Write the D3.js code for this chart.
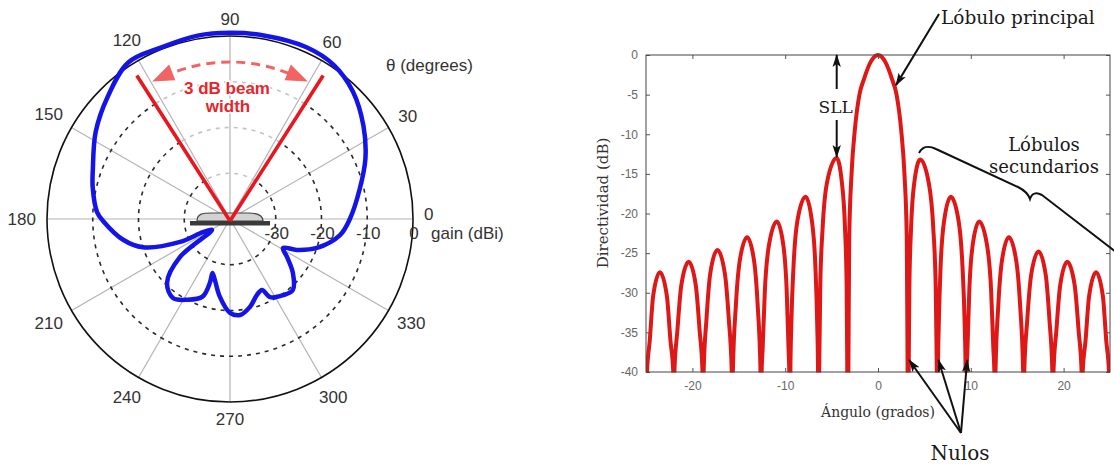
<!DOCTYPE html>
<html>
<head>
<meta charset="utf-8">
<script src="https://cdn.jsdelivr.net/npm/d3@7"></script>
<style>
  html, body { margin: 0; padding: 0; background: #fff; }
  svg { display: block; }
</style>
</head>
<body>
<svg id="chart" width="1114" height="464"></svg>
<script>
// ---------- Polar gain pattern (left) ----------
const polarAngles = [0, 30, 60, 90, 120, 150, 180, 210, 240, 270, 300, 330];
const gainRings = [-30, -20, -10];
const gainTicks = [-30, -20, -10, 0];
const beamEdges = [57, 123];          // 3 dB beam width edges (degrees)

// measured gain (dBi) versus angle, traced counter-clockwise from 0°
const patternTheta = [0, 13, 24, 35, 46, 56, 66, 80, 90, 100, 112, 123, 135, 147, 160, 167, 177,
  181, 191, 198, 204.7, 206, 211.4, 217.2, 225.4, 234.2, 242, 250.5, 252.5, 252, 256, 262.5, 270,
  276, 282.8, 289.6, 294.3, 297.2, 304.9, 311.6, 319.4, 326.3, 331.3, 335.2, 341.6, 351.7];
const patternGain = [-13.8, -10.9, -7.6, -4.4, -1.3, 0.6, 1.1, 0.8, 0.7, 0.7, 0.4, 0.8, -2.2, -5.0, -8.1, -9.2, -10.9,
  -12.3, -16.2, -20.0, -28.0, -33.4, -35.4, -26.3, -20.4, -18.7, -20.0, -22.0, -25.5, -27.6, -26.3, -22.9, -19.5,
  -18.9, -20.3, -22.4, -23.0, -20.8, -19.7, -19.3, -21.9, -25.0, -26.8, -23.9, -20.0, -15.7];

// ---------- Array factor (right) ----------
const angleTicks = [-20, -10, 0, 10, 20];
const dirTicks = [0, -5, -10, -15, -20, -25, -30, -35, -40];

// [angle (deg), directivity (dB)]
const lobesLeft = [
  [-24.95, -50], [-24.89, -40], [-24.6, -36.1], [-24.23, -30.4], [-23.5, -27.4], [-22.75, -30.4], [-22.36, -36.1], [-22.06, -40], [-22.0, -50],
  [-21.94, -40], [-21.62, -34.8], [-21.2, -29.1], [-20.4, -26.1], [-19.63, -29.1], [-19.22, -34.8], [-18.91, -40], [-18.85, -50],
  [-18.79, -40], [-18.48, -33.3], [-18.08, -27.6], [-17.3, -24.6], [-16.5, -27.6], [-16.08, -33.3], [-15.76, -40], [-15.7, -50],
  [-15.64, -40], [-15.32, -31.7], [-14.9, -26.0], [-14.1, -23.0], [-13.35, -26.0], [-12.96, -31.7], [-12.66, -40], [-12.6, -50],
  [-12.54, -40], [-12.43, -37.1], [-12.19, -29.7], [-11.75, -24.0], [-10.9, -21.0], [-10.2, -24.0], [-9.84, -29.7], [-9.64, -37.1], [-9.56, -40], [-9.5, -50],
  [-9.44, -40], [-9.34, -34.0], [-9.1, -26.6], [-8.68, -20.9], [-7.8, -17.9], [-7.13, -20.9], [-6.75, -26.6], [-6.55, -34.0], [-6.46, -40], [-6.4, -50],
  [-6.34, -40], [-6.22, -29.1], [-5.96, -21.7], [-5.48, -16.0], [-4.45, -13.0], [-3.9, -16.0], [-3.56, -21.7], [-3.38, -29.1], [-3.31, -40], [-3.25, -50]
];
const mainLobe = [
  [-3.19, -40], [-3.1, -23], [-2.85, -15], [-2.5, -9.5], [-2.0, -5.0], [-1.5, -3.0], [-0.8, -0.9], [0, 0],
  [0.8, -0.9], [1.5, -3.0], [2.0, -5.0], [2.5, -9.5], [2.85, -15], [3.1, -23], [3.19, -40], [3.25, -50]
];
const lobesRight = [
  [3.31, -40], [3.38, -29.3], [3.56, -21.9], [3.9, -16.2], [4.55, -13.2], [5.48, -16.2], [5.96, -21.9], [6.22, -29.3], [6.34, -40], [6.4, -50],
  [6.46, -40], [6.55, -34.0], [6.75, -26.6], [7.13, -20.9], [7.85, -17.9], [8.68, -20.9], [9.1, -26.6], [9.34, -34.0], [9.44, -40], [9.5, -50],
  [9.56, -40], [9.64, -37.1], [9.84, -29.7], [10.2, -24.0], [10.9, -21.0], [11.75, -24.0], [12.19, -29.7], [12.43, -37.1], [12.54, -40], [12.6, -50],
  [12.66, -40], [12.96, -31.7], [13.35, -26.0], [14.1, -23.0], [14.9, -26.0], [15.32, -31.7], [15.64, -40], [15.7, -50],
  [15.76, -40], [16.08, -33.5], [16.5, -27.8], [17.3, -24.8], [18.08, -27.8], [18.48, -33.5], [18.79, -40], [18.85, -50],
  [18.91, -40], [19.22, -34.8], [19.63, -29.1], [20.4, -26.1], [21.2, -29.1], [21.62, -34.8], [21.94, -40], [22.0, -50],
  [22.06, -40], [22.36, -36.1], [22.75, -30.4], [23.5, -27.4], [24.23, -30.4], [24.6, -36.1], [24.89, -40], [24.95, -50]
];
const sllPeak = [-4.45, -13.0];       // first side lobe used for the SLL marker
const nullMarkers = [3.25, 6.4, 9.5];  // nulls pointed at by "Nulos"

// ====================================================================
const svg = d3.select("#chart");
svg.append("rect").attr("width", 1114).attr("height", 464).attr("fill", "#fff");
const defs = svg.append("defs");
defs.append("marker").attr("id", "ah").attr("markerUnits", "userSpaceOnUse")
  .attr("markerWidth", 14).attr("markerHeight", 10).attr("refX", 12).attr("refY", 5)
  .attr("orient", "auto")
  .append("path").attr("d", "M0,0.8 L13,5 L0,9.2 L3,5 Z").attr("fill", "#111");

const sans = "'Liberation Sans', Arial, Helvetica, sans-serif";
const serif = "'DejaVu Serif', 'Liberation Serif', serif";

// ---------- polar plot ----------
const cx = 230, cy = 219, R = 183;
const rScale = d3.scaleLinear().domain([-40, 0]).range([0, R]);
const toRad = d => d * Math.PI / 180;
const polarXY = (rr, th) => [cx + rr * Math.cos(toRad(th)), cy - rr * Math.sin(toRad(th))];
const polar = svg.append("g");

polar.selectAll(".spoke").data(polarAngles).join("line").attr("class", "spoke")
  .attr("x1", cx).attr("y1", cy)
  .attr("x2", d => polarXY(R, d)[0]).attr("y2", d => polarXY(R, d)[1])
  .attr("stroke", "#b4b4b4").attr("stroke-width", 1.2);

gainRings.forEach(g => {
  const rr = rScale(g);
  const outside = d3.path();
  outside.arc(cx, cy, rr, toRad(-beamEdges[1]), toRad(-beamEdges[0] - 360), true);
  polar.append("path").attr("d", outside.toString()).attr("fill", "none")
    .attr("stroke", "#2a2a2a").attr("stroke-width", 1.6).attr("stroke-dasharray", "4,5");
  const inside = d3.path();
  inside.arc(cx, cy, rr, toRad(-beamEdges[0]), toRad(-beamEdges[1]), true);
  polar.append("path").attr("d", inside.toString()).attr("fill", "none")
    .attr("stroke", "#c4c4c4").attr("stroke-width", 1.6).attr("stroke-dasharray", "4,5");
});

polar.append("circle").attr("cx", cx).attr("cy", cy).attr("r", R)
  .attr("fill", "none").attr("stroke", "#111").attr("stroke-width", 1.6);

// angle labels
polar.selectAll(".ang").data(polarAngles).join("text").attr("class", "ang")
  .each(function (d) {
    const s = String(d), w = s.length * 9.5, h = 12;
    const rr = R + 11 + Math.abs(Math.cos(toRad(d))) * w / 2 + Math.abs(Math.sin(toRad(d))) * h / 2;
    const [px, py] = polarXY(rr, d);
    d3.select(this).attr("x", px).attr("y", d === 0 ? py - 5 : py).text(s);
  })
  .attr("text-anchor", "middle").attr("dominant-baseline", "central")
  .attr("font-family", sans).attr("font-size", 17).attr("fill", "#333");

// gain labels along 0°
polar.selectAll(".gl").data(gainTicks).join("text").attr("class", "gl")
  .attr("x", d => cx + rScale(d) + 1).attr("y", cy + 14)
  .attr("text-anchor", "middle").attr("dominant-baseline", "central")
  .attr("font-family", sans).attr("font-size", 17).attr("fill", "#333")
  .text(d => String(d));

polar.append("text").attr("x", 386).attr("y", 65).attr("dominant-baseline", "central")
  .attr("font-family", sans).attr("font-size", 17).attr("fill", "#333").text("θ (degrees)");
polar.append("text").attr("x", 431).attr("y", cy + 14).attr("dominant-baseline", "central")
  .attr("font-family", sans).attr("font-size", 17).attr("fill", "#333").text("gain (dBi)");

// gain pattern
const gainLine = d3.lineRadial()
  .angle(i => toRad(90 - patternTheta[i]))
  .radius(i => rScale(patternGain[i]))
  .curve(d3.curveCatmullRomClosed.alpha(0.5));
polar.append("path").attr("transform", `translate(${cx},${cy})`)
  .attr("d", gainLine(d3.range(patternTheta.length)))
  .attr("fill", "none").attr("stroke", "#1414e8").attr("stroke-width", 4.5)
  .attr("stroke-linejoin", "round");

// antenna icon at the origin
polar.append("path")
  .attr("d", `M${cx - 33},${cy + 2} C${cx - 33},${cy - 5} ${cx - 28},${cy - 6} ${cx - 18},${cy - 6} L${cx + 18},${cy - 6} C${cx + 28},${cy - 6} ${cx + 33},${cy - 4} ${cx + 33},${cy + 2} Z`)
  .attr("fill", "#d2d2d2").attr("stroke", "#444").attr("stroke-width", 1.2);
polar.append("rect").attr("x", cx - 40).attr("y", cy + 2).attr("width", 80).attr("height", 4.5)
  .attr("fill", "#3a3a3a");

// 3 dB beam width markers
const beamLen = R * 0.935;
polar.selectAll(".beam").data(beamEdges).join("line").attr("class", "beam")
  .attr("x1", cx).attr("y1", cy + 2)
  .attr("x2", d => polarXY(beamLen, d)[0]).attr("y2", d => polarXY(beamLen, d)[1])
  .attr("stroke", "#e8171f").attr("stroke-width", 3.6);

const arcR = 157;
const bw = d3.path();
bw.arc(cx, cy, arcR, toRad(-(beamEdges[0] + 11)), toRad(-(beamEdges[1] - 11)), true);
polar.append("path").attr("d", bw.toString()).attr("fill", "none")
  .attr("stroke", "#f26464").attr("stroke-width", 3).attr("stroke-dasharray", "9,6");
[[beamEdges[0] + 3.5, beamEdges[0] + 11.5], [beamEdges[1] - 3.5, beamEdges[1] - 11.5]].forEach(([tip, base]) => {
  const pts = [polarXY(arcR + 1, tip), polarXY(arcR + 9, base), polarXY(arcR - 8, base)];
  polar.append("polygon").attr("points", pts.map(p => p.join(",")).join(" "))
    .attr("fill", "#f26464");
});
const beamText = polar.append("g").attr("font-family", sans).attr("font-size", 17)
  .attr("font-weight", "bold").attr("fill", "#e8242b").attr("text-anchor", "middle")
  .attr("stroke", "#fff").attr("stroke-width", 3).attr("paint-order", "stroke");
beamText.append("text").attr("x", 227).attr("y", 94).text("3 dB beam");
beamText.append("text").attr("x", 228).attr("y", 112).text("width");

// ---------- array factor plot ----------
const x = d3.scaleLinear().domain([-25, 25]).range([646, 1110]);
const y = d3.scaleLinear().domain([-40, 0]).range([372, 55]);
const plot = svg.append("g");

defs.append("clipPath").attr("id", "clipPlot").append("rect")
  .attr("x", 646).attr("y", 40).attr("width", 464).attr("height", 332.5);

const axStyle = g => {
  g.select(".domain").remove();
  g.selectAll("line").attr("stroke", "#555");
  g.selectAll("text").attr("font-family", sans).attr("font-size", 12).attr("fill", "#666");
};
const fmt = d => String(d);
plot.append("g").attr("transform", "translate(0,372)")
  .call(d3.axisBottom(x).tickValues(angleTicks).tickSize(-4).tickPadding(9).tickFormat(fmt)).call(axStyle);
plot.append("g").attr("transform", "translate(0,55)")
  .call(d3.axisTop(x).tickValues(angleTicks).tickSize(-4).tickFormat("")).call(axStyle);
plot.append("g").attr("transform", "translate(646,0)")
  .call(d3.axisLeft(y).tickValues(dirTicks).tickSize(-4).tickPadding(8).tickFormat(fmt)).call(axStyle);
plot.append("g").attr("transform", "translate(1110,0)")
  .call(d3.axisRight(y).tickValues(dirTicks).tickSize(-4).tickFormat("")).call(axStyle);

const pattern = [...lobesLeft, ...mainLobe, ...lobesRight];
plot.append("path").attr("clip-path", "url(#clipPlot)")
  .attr("d", d3.line().x(d => x(d[0])).y(d => y(d[1])).curve(d3.curveMonotoneX)(pattern))
  .attr("fill", "none").attr("stroke", "#de1717").attr("stroke-width", 4)
  .attr("stroke-linejoin", "round");

plot.append("rect").attr("x", 646).attr("y", 55).attr("width", 464).attr("height", 317)
  .attr("fill", "none").attr("stroke", "#444").attr("stroke-width", 1);

plot.append("text").attr("x", 878).attr("y", 417).attr("text-anchor", "middle")
  .attr("font-family", serif).attr("font-size", 14).attr("fill", "#333").text("Ángulo (grados)");
plot.append("text").attr("transform", "translate(603,203) rotate(-90)")
  .attr("text-anchor", "middle").attr("dominant-baseline", "central")
  .attr("font-family", serif).attr("font-size", 15).attr("fill", "#333").text("Directividad (dB)");

// annotations
const ann = plot.append("g").attr("stroke", "#111").attr("stroke-width", 2).attr("fill", "none");
const sx = x(sllPeak[0]);
ann.append("line").attr("x1", sx).attr("y1", 89).attr("x2", sx).attr("y2", y(0)).attr("marker-end", "url(#ah)");
ann.append("line").attr("x1", sx).attr("y1", 120).attr("x2", sx).attr("y2", y(sllPeak[1]) - 1).attr("marker-end", "url(#ah)");
ann.append("line").attr("x1", 939).attr("y1", 14).attr("x2", 896).attr("y2", y(-3.8)).attr("marker-end", "url(#ah)");
ann.append("path")
  .attr("d", "M919,153 C922,147 928,145 936,149 L1018,187 C1024,190 1028,193 1030,199 C1032,193 1036,192 1042,195 L1116,252");
nullMarkers.forEach(n => {
  ann.append("line").attr("x1", 961).attr("y1", 433).attr("x2", x(n) + 1).attr("y2", 360)
    .attr("marker-end", "url(#ah)");
});

const lab = plot.append("g").attr("font-family", serif).attr("fill", "#1a1a1a");
lab.append("text").attr("x", sx - 1).attr("y", 113).attr("text-anchor", "middle").attr("font-size", 17)
  .attr("stroke", "#fff").attr("stroke-width", 3).attr("paint-order", "stroke").text("SLL");
lab.append("text").attr("x", 941).attr("y", 24).attr("font-size", 18.5).text("Lóbulo principal");
lab.append("text").attr("x", 1044).attr("y", 151).attr("text-anchor", "middle").attr("font-size", 18).text("Lóbulos");
lab.append("text").attr("x", 1044).attr("y", 173).attr("text-anchor", "middle").attr("font-size", 18).text("secundarios");
lab.append("text").attr("x", 960).attr("y", 460).attr("text-anchor", "middle").attr("font-size", 20).text("Nulos");
</script>
</body>
</html>
